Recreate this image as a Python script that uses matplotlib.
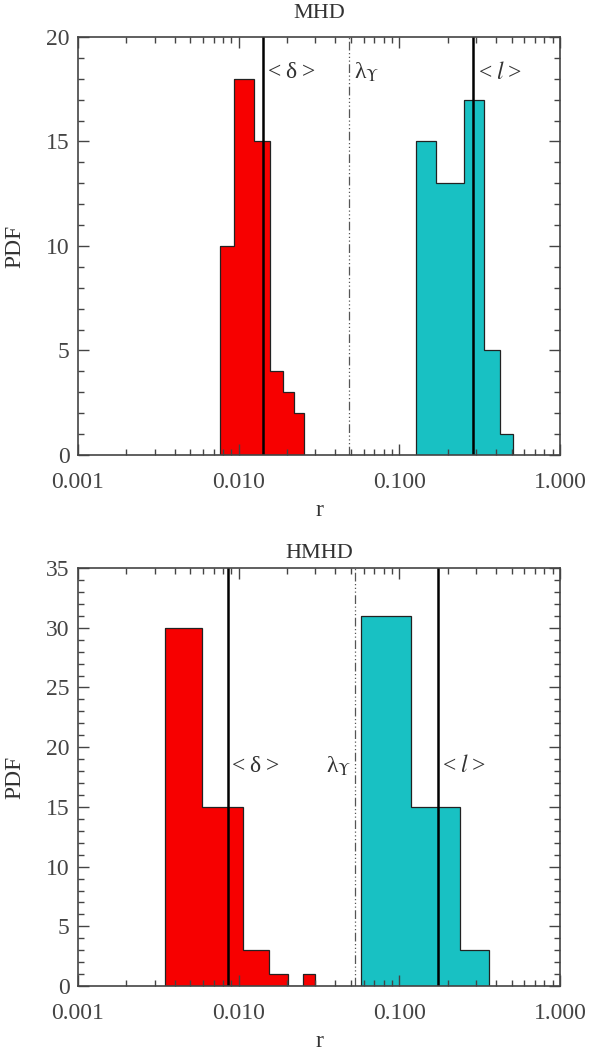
import numpy as np
import matplotlib
matplotlib.use('Agg')
import matplotlib.pyplot as plt
from matplotlib.ticker import MultipleLocator, LogLocator, NullFormatter

plt.rcParams['font.family'] = ['Liberation Serif', 'DejaVu Serif']
plt.rcParams['mathtext.fontset'] = 'stix'
plt.rcParams['text.color'] = '#333333'
plt.rcParams['axes.labelcolor'] = '#333333'
plt.rcParams['xtick.color'] = '#444444'
plt.rcParams['ytick.color'] = '#444444'

# MHD
mhd_delta_edges = [0.0077, 0.0093, 0.0125, 0.0157, 0.0190, 0.0222, 0.0255]
mhd_delta_pdf = [10, 18, 15, 4, 3, 2]
mhd_l_edges = [0.127, 0.169, 0.254, 0.337, 0.425, 0.509]
mhd_l_pdf = [15, 13, 17, 5, 1]
mhd_mean_delta = 0.0142
mhd_mean_l = 0.288
mhd_lambda = 0.0485

# HMHD
hmhd_delta_edges = [0.00348, 0.00589, 0.01059, 0.01543, 0.0202, 0.0250, 0.0299]
hmhd_delta_pdf = [30, 15, 3, 1, 0, 1]
hmhd_l_edges = [0.058, 0.118, 0.238, 0.361]
hmhd_l_pdf = [31, 15, 3]
hmhd_mean_delta = 0.00854
hmhd_mean_l = 0.173
hmhd_lambda = 0.053

red = '#f70000'
cyan = '#18c1c3'
fs = 15
tfs = 17

fig = plt.figure(figsize=(5.91, 10.51), dpi=100)
ax1 = fig.add_axes([0.132, 0.5671, 0.8156, 0.3977])
ax2 = fig.add_axes([0.132, 0.0618, 0.8156, 0.3977])


def panel(ax, title, de, dp, le, lp, md, ml, lam, ymax, lab_y, lam_left, tpad):
    ax.stairs(dp, de, fill=True, facecolor=red, edgecolor='none')
    ax.stairs(dp, de, baseline=0, color='#222222', lw=0.9)
    ax.stairs(lp, le, fill=True, facecolor=cyan, edgecolor='none')
    ax.stairs(lp, le, baseline=0, color='#222222', lw=0.9)
    ax.axvline(md, color='black', lw=1.8)
    ax.axvline(ml, color='black', lw=1.8)
    ax.axvline(lam, color='#555555', lw=0.9, ls=(0, (7, 2, 1, 2, 1, 2, 1, 2)))

    ax.set_xscale('log')
    ax.set_xlim(0.001, 1.0)
    ax.set_ylim(0, ymax)
    ax.set_title(title, fontsize=tfs - 1, pad=tpad, color='#333333')
    ax.set_xlabel('r', fontsize=tfs, labelpad=5)
    ax.set_ylabel('PDF', fontsize=tfs, labelpad=15)

    ax.xaxis.set_minor_locator(LogLocator(base=10, subs=np.arange(2, 10), numticks=20))
    ax.xaxis.set_minor_formatter(NullFormatter())
    ax.set_xticks([0.001, 0.01, 0.1, 1.0])
    ax.set_xticklabels(['0.001', '0.010', '0.100', '1.000'])
    ax.yaxis.set_major_locator(MultipleLocator(5))
    ax.yaxis.set_minor_locator(MultipleLocator(1))

    ax.tick_params(which='both', direction='in', top=True, right=True, labelsize=tfs)
    ax.tick_params(which='major', length=8, width=1)
    ax.tick_params(which='minor', length=4, width=1)
    ax.tick_params(axis='x', which='major', pad=12)
    ax.tick_params(axis='y', which='major', pad=6)
    for s in ax.spines.values():
        s.set_color('#444444')
        s.set_linewidth(1.2)

    ax.text(md * 1.07, lab_y, '<\u2009δ\u2009>', fontsize=tfs, ha='left', va='center')
    ax.text(ml * 1.07, lab_y, '<\u2009$l$\u2009>', fontsize=tfs, ha='left', va='center')
    if lam_left:
        ax.text(lam * 0.95, lab_y, 'λ$_{\\Upsilon}$', fontsize=tfs, ha='right', va='center')
    else:
        ax.text(lam * 1.08, lab_y, 'λ$_{\\Upsilon}$', fontsize=tfs, ha='left', va='center')


panel(ax1, 'MHD', mhd_delta_edges, mhd_delta_pdf, mhd_l_edges, mhd_l_pdf,
      mhd_mean_delta, mhd_mean_l, mhd_lambda, 20, 18.3, False, 14)
panel(ax2, 'HMHD', hmhd_delta_edges, hmhd_delta_pdf, hmhd_l_edges, hmhd_l_pdf,
      hmhd_mean_delta, hmhd_mean_l, hmhd_lambda, 35, 18.4, True, 7)

fig.savefig('out.png', dpi=100)
